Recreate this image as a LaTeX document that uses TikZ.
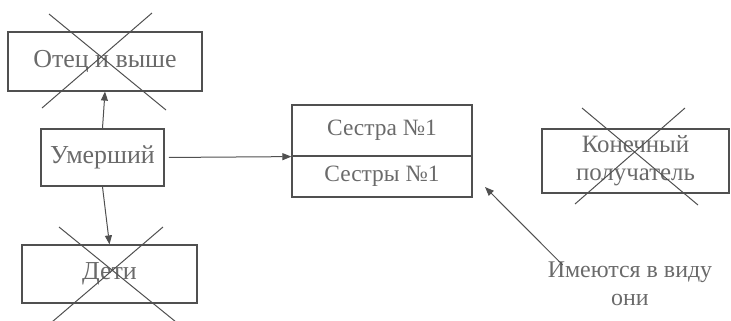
\documentclass[tikz,border=0pt]{standalone}
\usepackage{fontspec}
\setmainfont{Liberation Serif}
\usetikzlibrary{arrows.meta}
\definecolor{ink}{HTML}{505050}
\definecolor{txt}{HTML}{6A6A6A}

\begin{document}
\begin{tikzpicture}[x=1bp, y=-1bp,
  box/.style={draw=ink, line width=1.2bp, text=txt, inner sep=0pt, font=\fontsize{26}{28}\selectfont},
  arr/.style={draw=ink, line width=1bp, -{Triangle[length=9bp,width=7bp]}},
  cross/.style={draw=ink, line width=1bp}]
\useasboundingbox (0,0) rectangle (731,320);
% left column
\node[box, minimum width=194bp, minimum height=59bp] (father) at (105,61.5) {Отец и выше};
\node[box, line width=1.8bp, minimum width=123bp, minimum height=57bp] (dead) at (102.5,157.5) {Умерший};
\node[box, minimum width=175bp, minimum height=58bp] (children) at (109.5,274) {Дети};
% sisters
\node[box, font=\fontsize{23.5}{26}\selectfont, minimum width=180bp, minimum height=51bp] (s1) at (382,130.5) {Сестра №1};
\node[box, font=\fontsize{23.5}{26}\selectfont, minimum width=180bp, minimum height=41bp] (s2) at (382,176.5) {Сестры №1};
% right side
\node[box, minimum width=187bp, minimum height=64bp, align=center, font=\fontsize{25}{28}\selectfont] (final) at (635.5,161) {Конечный\\получатель};
\node[text=txt, inner sep=0pt, align=center, font=\fontsize{24}{28}\selectfont] (note) at (630,284) {Имеются в виду\\они};
\coordinate (tip) at (485,187);
% crossed out
\draw[cross] (49,14) -- (166,110) (152,13) -- (42,108);
\draw[cross] (59,227) -- (176,322) (163,227) -- (52,322);
\draw[cross] (582,108) -- (698,205) (685,108) -- (575,204);
% links
\draw[arr] (dead.north) -- (father.south);
\draw[arr] (dead.south) -- (children.north);
\draw[arr, shorten <=4bp] (dead.east) -- (s1.south west);
\draw[arr] ([xshift=15bp,yshift=-3bp]note.north west) -- (tip);
\end{tikzpicture}
\end{document}
